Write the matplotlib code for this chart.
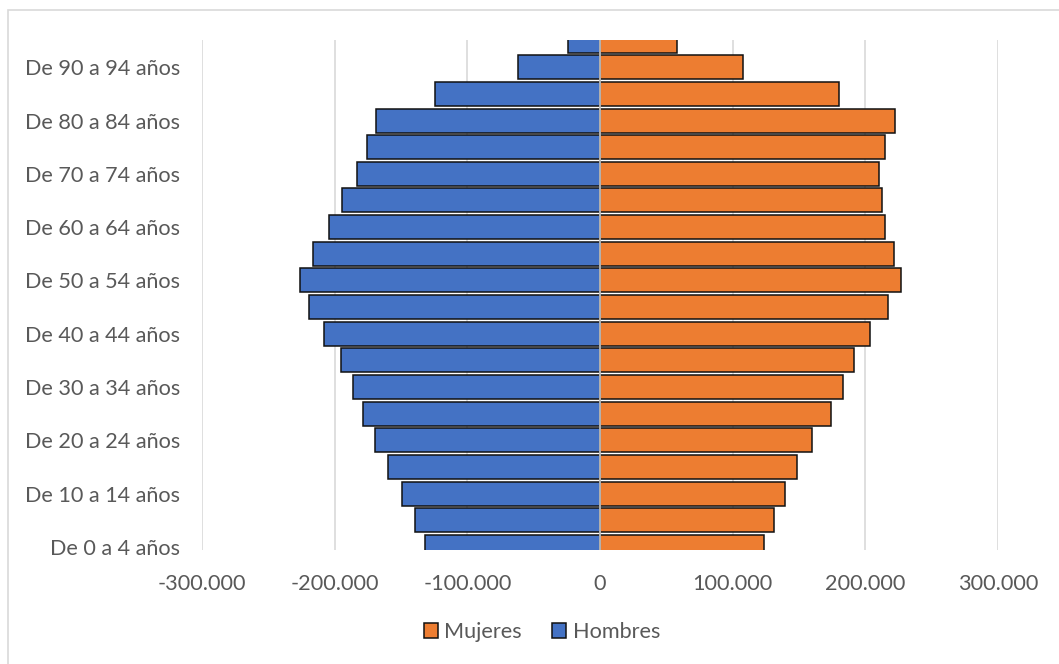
import matplotlib
matplotlib.use("Agg")
import matplotlib.pyplot as plt
from matplotlib.patches import Patch, Rectangle
from matplotlib.ticker import FuncFormatter, FixedLocator, NullLocator

# Age groups, youngest first
age_groups = [
    "De 0 a 4 años", "De 5 a 9 años", "De 10 a 14 años", "De 15 a 19 años",
    "De 20 a 24 años", "De 25 a 29 años", "De 30 a 34 años", "De 35 a 39 años",
    "De 40 a 44 años", "De 45 a 49 años", "De 50 a 54 años", "De 55 a 59 años",
    "De 60 a 64 años", "De 65 a 69 años", "De 70 a 74 años", "De 75 a 79 años",
    "De 80 a 84 años", "De 85 a 89 años", "De 90 a 94 años", "95 y más años",
]

hombres = [
    -131600, -139600, -149400, -159800, -169600, -178600, -186400, -195400,
    -208400, -219700, -226100, -216300, -204400, -194600, -182800, -175300,
    -169000, -124300, -61800, -23800,
]

mujeres = [
    123400, 130900, 139200, 148200, 159800, 173800, 182900, 191400,
    203500, 216800, 226600, 221600, 214500, 212300, 210300, 214500,
    222300, 180400, 108100, 57800,
]

x_ticks = [-300000, -200000, -100000, 0, 100000, 200000, 300000]

BLUE = "#4472C4"
ORANGE = "#ED7D31"
TEXT = "#595959"
GRID = "#D9D9D9"
FS = 15.6

plt.rcParams["font.family"] = ["Lato", "DejaVu Sans"]

W, H = 1059, 664
fig = plt.figure(figsize=(W / 100, H / 100), dpi=100)

# chart-area frame
fig.patches.append(Rectangle((8 / W, -0.1), 1.2, (H - 10) / H + 0.1,
                             transform=fig.transFigure, fill=False,
                             edgecolor=GRID, linewidth=1.2, zorder=0))

ax = fig.add_axes([202 / W, (H - 550) / H, (998 - 202) / W, (550 - 40) / H])

pos = list(range(len(age_groups)))
ax.barh(pos, hombres, height=0.9, color=BLUE, edgecolor="#111111",
        linewidth=1.1, zorder=2, label="Hombres")
ax.barh(pos, mujeres, height=0.9, color=ORANGE, edgecolor="#111111",
        linewidth=1.1, zorder=2, label="Mujeres")

ax.set_xlim(-300000, 300000)
ax.set_ylim(-0.11, 19.02)

ax.xaxis.set_major_locator(FixedLocator(x_ticks))
ax.xaxis.set_major_formatter(
    FuncFormatter(lambda v, p: f"{int(v):,}".replace(",", ".")))
ax.yaxis.set_major_locator(FixedLocator(pos[::2]))
ax.set_yticklabels(age_groups[::2])
ax.yaxis.set_minor_locator(NullLocator())

ax.grid(axis="x", color=GRID, linewidth=1.2, zorder=0)
ax.set_axisbelow(True)
ax.tick_params(axis="both", length=0, labelsize=FS, labelcolor=TEXT)
ax.tick_params(axis="y", pad=16)
ax.tick_params(axis="x", pad=17)
for s in ax.spines.values():
    s.set_visible(False)

# vertical axis line at zero, over the bars
ax.axvline(0, color="#BFBFBF", linewidth=1.3, zorder=3)

handles = [
    Patch(facecolor=ORANGE, edgecolor="#111111", linewidth=1.1, label="Mujeres"),
    Patch(facecolor=BLUE, edgecolor="#111111", linewidth=1.1, label="Hombres"),
]
fig.legend(handles=handles, loc="center", bbox_to_anchor=(542 / W, (H - 632) / H),
           ncol=2, frameon=False, fontsize=FS, labelcolor=TEXT,
           handlelength=0.65, handleheight=0.65, handletextpad=0.3,
           columnspacing=1.4)

fig.savefig("out.png", dpi=100, facecolor="white")
